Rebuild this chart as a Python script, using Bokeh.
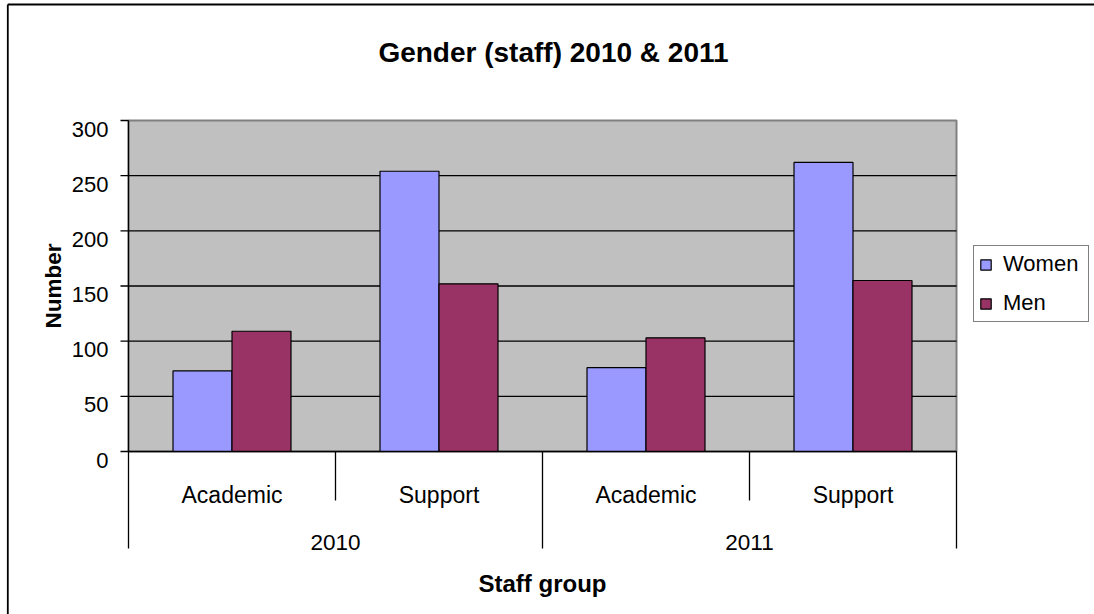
from bokeh.plotting import figure
from bokeh.models import Range1d, Legend, LegendItem
from bokeh.core.properties import value
from bokeh.embed import file_html
from bokeh.resources import INLINE

# ---------------- data ----------------
years = ["2010", "2010", "2011", "2011"]
groups = ["Academic", "Support", "Academic", "Support"]
women = [73, 254, 76, 262]
men = [109, 152, 103, 155]
series_names = ["Women", "Men"]
series_colors = ["#9999FF", "#993366"]
y_ticks = [0, 50, 100, 150, 200, 250, 300]
y_tick_labels = ["0", "50", "100", "150", "200", "250", "300"]
title_text = "Gender (staff) 2010 & 2011"
y_title = "Number"
x_title = "Staff group"

# ---------------- layout (pixels) ----------------
W, H = 1094, 614
PL, PR, PT, PB = 128, 956, 120, 451
YMAX = y_ticks[-1]
n = len(groups)
xs = (PR - PL) / n
ys = (PB - PT) / YMAX
FONT = value("Liberation Sans")


def dx(px):
    return (px - PL) / xs


def dy(py):
    return (PB - py) / ys


p = figure(width=W, height=H, x_range=Range1d(dx(0), dx(W)), y_range=Range1d(dy(H), dy(0)),
           x_axis_type=None, y_axis_type=None, min_border=0, toolbar_location=None,
           output_backend="svg", title=None, outline_line_color=None)
p.background_fill_color = "white"
p.border_fill_color = "white"

# outer chart border (left and top visible)
p.segment(x0=[dx(7.3), dx(7.3)], y0=[dy(4), dy(4)], x1=[dx(7.3), dx(W + 20)], y1=[dy(H + 20), dy(4)],
          line_color="black", line_width=1.8)

# plot area
p.quad(left=[0], right=[n], bottom=[0], top=[YMAX], fill_color="#C0C0C0",
       line_color="#808080", line_width=2)

# gridlines
grid_t = y_ticks[1:-1]
p.segment(x0=[0] * len(grid_t), x1=[n] * len(grid_t), y0=grid_t, y1=grid_t,
          line_color="black", line_width=1.3)

# bars
bw = 0.285
centers = [i + 0.5 for i in range(n)]
rw = p.vbar(x=[c - bw / 2 for c in centers], top=women, width=bw, bottom=0,
            fill_color=series_colors[0], line_color="black", line_width=1.2)
rm = p.vbar(x=[c + bw / 2 for c in centers], top=men, width=bw, bottom=0,
            fill_color=series_colors[1], line_color="black", line_width=1.2)

# axes lines
p.segment(x0=[0], x1=[n], y0=[0], y1=[0], line_color="black", line_width=1.3)
p.segment(x0=[0], x1=[0], y0=[0], y1=[YMAX], line_color="black", line_width=1.3)
p.segment(x0=[dx(PL - 8)] * len(y_ticks), x1=[0] * len(y_ticks), y0=y_ticks, y1=y_ticks,
          line_color="black", line_width=1.3)
p.text(x=[dx(108)] * len(y_ticks), y=[dy(PB - t * ys + 8.5) for t in y_ticks], text=y_tick_labels,
       text_font=FONT, text_font_size="22px", text_align="right", text_baseline="alphabetic",
       text_color="black")

# category separators
bx, by0, by1 = [], [], []
for k in range(n + 1):
    long_line = k == 0 or k == n or years[k] != years[k - 1]
    bx.append(k)
    by0.append(0)
    by1.append(dy(548) if long_line else dy(500))
p.segment(x0=bx, x1=bx, y0=by0, y1=by1, line_color="black", line_width=1.3)

# category labels
p.text(x=centers, y=[dy(494)] * n, text=groups, text_font=FONT, text_font_size="23px",
       text_align="center", text_baseline="alphabetic", text_color="black")
uniq_years = []
for yv in years:
    if yv not in uniq_years:
        uniq_years.append(yv)
year_x = [sum(c for c, yv in zip(centers, years) if yv == u) / years.count(u) for u in uniq_years]
p.text(x=year_x, y=[dy(542)] * len(uniq_years), text=uniq_years, text_font=FONT,
       text_font_size="22.5px", text_align="center", text_baseline="alphabetic", text_color="black")

# titles
p.text(x=[dx(553)], y=[dy(52)], text=[title_text], text_font=FONT, text_font_style="bold",
       text_font_size="28px", text_align="center", text_baseline="alphabetic", text_color="black")
p.text(x=[n / 2], y=[dy(583)], text=[x_title], text_font=FONT, text_font_style="bold",
       text_font_size="24px", text_align="center", text_baseline="alphabetic", text_color="black")
p.text(x=[dx(53)], y=[YMAX / 2], text=[y_title], angle=1.5707963, text_font=FONT,
       text_font_style="bold", text_font_size="22.5px", text_align="center",
       text_baseline="alphabetic", text_color="black")

# legend
legend = Legend(items=[LegendItem(label=series_names[0], renderers=[rw]),
                       LegendItem(label=series_names[1], renderers=[rm])],
                location=(973, H - 322))
legend.label_text_font = "Liberation Sans"
legend.label_text_font_size = "22px"
legend.label_text_color = "black"
legend.glyph_width = 13
legend.glyph_height = 13
legend.label_standoff = 11
legend.label_width = 80
legend.padding = 5
legend.spacing = 13
legend.margin = 0
legend.border_line_color = "black"
legend.border_line_width = 1.3
legend.background_fill_color = "white"
legend.background_fill_alpha = 1.0
p.add_layout(legend)

open("out.html", "w").write(file_html(p, INLINE))
